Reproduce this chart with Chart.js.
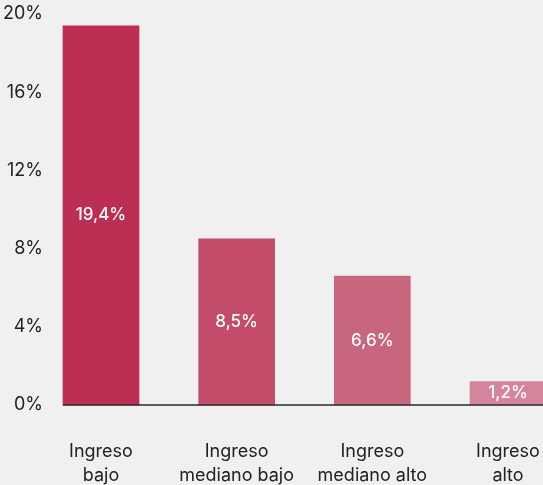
<!DOCTYPE html>
<html>
<head>
<meta charset="utf-8">
<script src="https://cdn.jsdelivr.net/npm/chart.js@4/dist/chart.umd.min.js"></script>
<style>
  html, body { margin: 0; padding: 0; background: #f0f0f0; overflow: hidden; }
  #wrap { width: 543px; height: 485px; }
</style>
</head>
<body>
<div id="wrap"><canvas id="chart"></canvas></div>
<script>
// Datos del gráfico
const categories = [["Ingreso", "bajo"], ["Ingreso", "mediano bajo"], ["Ingreso", "mediano alto"], ["Ingreso", "alto"]];
const values = [19.4, 8.5, 6.6, 1.2];
const barColors = ["#bd2e55", "#c24c6a", "#c9667f", "#d5859b"];
const yTicks = [0, 4, 8, 12, 16, 20];

const fontFamily = "Inter, 'Open Sans', sans-serif";

// Formato de porcentaje con coma decimal
function formatPct(v) {
    return v.toFixed(1).replace(".", ",") + "%";
}

// Etiquetas blancas en el centro de cada barra
const barLabels = {
    id: "barLabels",
    afterDatasetsDraw(chart) {
        const ctx = chart.ctx;
        const meta = chart.getDatasetMeta(0);
        ctx.save();
        ctx.fillStyle = "#ffffff";
        ctx.font = "500 17px " + fontFamily;
        ctx.textAlign = "center";
        ctx.textBaseline = "middle";
        meta.data.forEach((bar, i) => {
            ctx.fillText(formatPct(values[i]), bar.x, (bar.y + bar.base) / 2);
        });
        ctx.restore();
    }
};

// Línea base desde la primera barra hasta el borde derecho
const baseLine = {
    id: "baseLine",
    afterDatasetsDraw(chart) {
        const ctx = chart.ctx;
        const first = chart.getDatasetMeta(0).data[0];
        const y = chart.scales.y.getPixelForValue(0);
        ctx.save();
        ctx.strokeStyle = "#2a2a2a";
        ctx.lineWidth = 1.5;
        ctx.beginPath();
        ctx.moveTo(first.x - first.width / 2, y);
        ctx.lineTo(chart.width, y);
        ctx.stroke();
        ctx.restore();
    }
};

function noPadding(scale) {
    scale.paddingLeft = 0;
    scale.paddingRight = 0;
    scale.paddingTop = 0;
    scale.paddingBottom = 0;
}

const ctx = document.getElementById("chart").getContext("2d");
new Chart(ctx, {
    type: "bar",
    data: {
        labels: categories,
        datasets: [{
            data: values,
            backgroundColor: barColors,
            barThickness: 76,
            clip: false
        }]
    },
    options: {
        responsive: true,
        maintainAspectRatio: false,
        animation: false,
        layout: { padding: { top: 14, right: 35, left: 0, bottom: 0 } },
        plugins: {
            legend: { display: false },
            tooltip: { enabled: false }
        },
        scales: {
            x: {
                offset: false,
                grid: { display: false, drawTicks: false },
                border: { display: false },
                ticks: {
                    color: "#222",
                    padding: 35,
                    maxRotation: 0,
                    autoSkip: false,
                    font: { family: fontFamily, size: 18, lineHeight: 1.3 }
                },
                afterFit(scale) { scale.height = 80; noPadding(scale); }
            },
            y: {
                min: 0,
                max: 20,
                afterBuildTicks(scale) { scale.ticks = yTicks.map(v => ({ value: v })); },
                grid: { display: false, drawTicks: false },
                border: { display: false },
                ticks: {
                    color: "#222",
                    padding: 58,
                    font: { family: fontFamily, size: 18 },
                    callback: v => v + "%"
                },
                afterFit(scale) { scale.width = 101; noPadding(scale); }
            }
        }
    },
    plugins: [barLabels, baseLine]
});
</script>
</body>
</html>
